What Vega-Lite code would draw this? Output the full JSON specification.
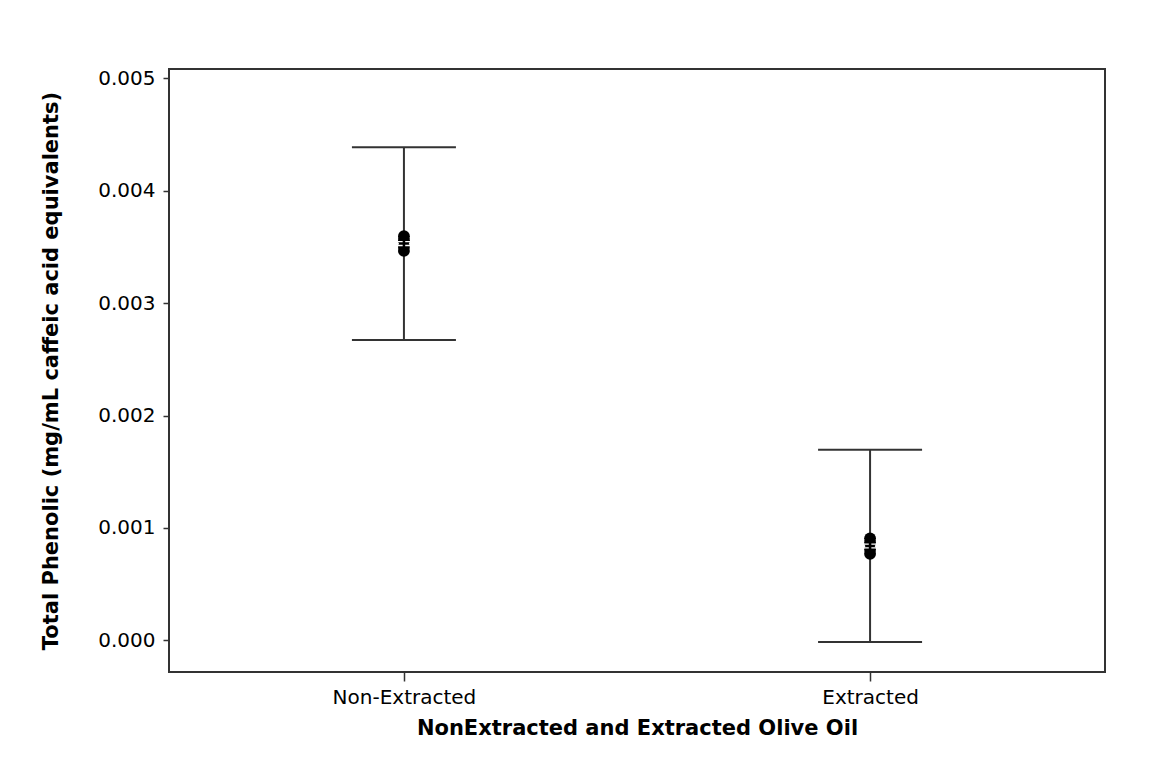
{
  "$schema": "https://vega.github.io/schema/vega-lite/v6.json",
  "width": 936,
  "height": 603,
  "autosize": {"type": "none"},
  "padding": {"left": 169, "top": 69, "right": 44, "bottom": 100},
  "background": "white",
  "config": {
    "font": "DejaVu Sans",
    "view": {"stroke": "#333333", "strokeWidth": 2},
    "axis": {"grid": false, "domain": false, "tickColor": "#333333", "labelColor": "black", "titleColor": "black", "labelFont": "DejaVu Sans", "titleFont": "DejaVu Sans"}
  },
  "datasets": {
    "pts": [
      {"group": "Non-Extracted", "value": 0.003595},
      {"group": "Non-Extracted", "value": 0.00356},
      {"group": "Non-Extracted", "value": 0.0035},
      {"group": "Non-Extracted", "value": 0.003465},
      {"group": "Extracted", "value": 0.000908},
      {"group": "Extracted", "value": 0.000872},
      {"group": "Extracted", "value": 0.000808},
      {"group": "Extracted", "value": 0.00077}
    ],
    "ci": [
      {"group": "Non-Extracted", "mean": 0.00353, "lower": 0.002673, "upper": 0.004386},
      {"group": "Extracted", "mean": 0.00084, "lower": -0.000014, "upper": 0.001695}
    ]
  },
  "encoding": {
    "x": {
      "field": "group", "type": "nominal",
      "sort": ["Non-Extracted", "Extracted"],
      "scale": {"type": "point", "padding": 0.504},
      "axis": {"title": "NonExtracted and Extracted Olive Oil", "labelAngle": 0, "labelFontSize": 20, "titleFontSize": 21, "titleFontWeight": "bold", "tickSize": 9, "tickWidth": 1.5, "labelPadding": 6, "titlePadding": 10}
    }
  },
  "layer": [
    {
      "data": {"name": "ci"},
      "mark": {"type": "rule", "color": "#333333", "strokeWidth": 2},
      "encoding": {
        "y": {"field": "lower", "type": "quantitative",
          "scale": {"domain": [-0.000281, 0.005083], "nice": false, "zero": false},
          "axis": {"title": "Total Phenolic (mg/mL caffeic acid equivalents)", "values": [0, 0.001, 0.002, 0.003, 0.004, 0.005], "format": ".3f", "labelFontSize": 20, "titleFontSize": 21, "titleFontWeight": "bold", "tickSize": 6, "tickWidth": 1.5, "labelPadding": 8, "titlePadding": 36}},
        "y2": {"field": "upper"}
      }
    },
    {
      "data": {"name": "ci"},
      "mark": {"type": "tick", "orient": "horizontal", "color": "#333333", "size": 104, "thickness": 2, "opacity": 1},
      "encoding": {"y": {"field": "upper", "type": "quantitative"}}
    },
    {
      "data": {"name": "ci"},
      "mark": {"type": "tick", "orient": "horizontal", "color": "#333333", "size": 104, "thickness": 2, "opacity": 1},
      "encoding": {"y": {"field": "lower", "type": "quantitative"}}
    },
    {
      "data": {"name": "pts"},
      "mark": {"type": "point", "filled": true, "color": "black", "size": 140, "opacity": 1},
      "encoding": {"y": {"field": "value", "type": "quantitative"}}
    },
    {
      "data": {"name": "ci"},
      "mark": {"type": "point", "filled": false, "shape": "M-1,-0.3H-0.2M0.2,-0.3H1M-1,0.3H-0.2M0.2,0.3H1", "stroke": "white", "strokeWidth": 1.3, "size": 160, "opacity": 1},
      "encoding": {"y": {"field": "mean", "type": "quantitative"}}
    }
  ]
}
